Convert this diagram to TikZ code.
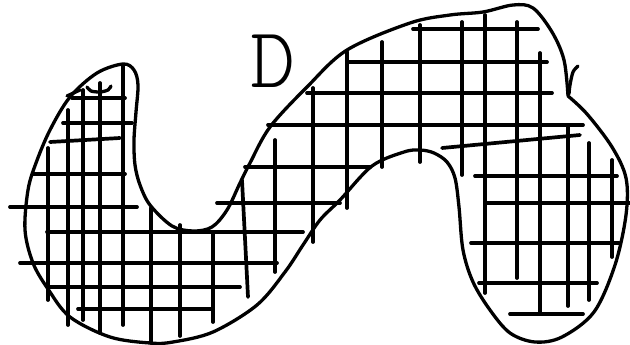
\documentclass[tikz,border=0pt]{standalone}
\usepackage{fontspec}
\newfontfamily\handfont{Latin Modern Mono Light}
\begin{document}
\begin{tikzpicture}[x=1pt,y=-1pt,
  outline/.style={line width=3.3pt,line join=round,line cap=round},
  gridline/.style={line width=3.7pt,line cap=round}]
\useasboundingbox (0,0) rectangle (630,345);
% region outline (sharp corner at the hook on the right)
\draw[outline] plot[smooth,tension=0.55] coordinates {
 (568,96) (587,114) (612,147) (626,178) (626,215) (615,265) (594,312)
 (562,337) (535,342) (510,333) (490,310) (473,282) (463,250) (459,207)
 (455,178) (447,162) (434,153) (420,150) (404,152) (372,166) (340,200)
 (320,220) (303,245) (285,272) (257,305) (213,332) (173,342) (150,343)
 (110,337) (70,317) (48,289) (33,263) (25,230) (28,190) (36,163) (50,130)
 (70,97) (97,73) (123,64) (134,70) (138,85) (136,112) (134,140) (135,165)
 (140,185) (150,205) (172,226) (193,231) (212,227) (227,210) (240,183)
 (250,163) (270,127) (307,87) (347,50) (410,23) (450,15) (483,12)
 (513,5) (533,8) (552,32) (564,60) (568,96)};
% hook on the right
\draw[outline] plot[smooth] coordinates {(569,94) (570,85) (573,72) (578,66)};
% marks at the top left
\draw[outline] (67,96) -- (80,90);
\draw[outline] plot[smooth] coordinates {(87,87) (91,91) (100,92) (108,90) (111,86)};
% label
\node[font=\handfont\fontsize{86}{86}\selectfont,inner sep=0pt,anchor=base] (lab) at (273,88) {D};
% horizontal grid strokes
\foreach \ya/\xa/\yb/\xb in {
 98/72/98/125, 123/63/123/132, 142/50/138/120, 174/33/174/125,
 207/10/207/137, 232/47/232/303, 263/20/263/277, 287/48/287/240,
 309/78/309/212, 29/413/29/538, 62/348/62/547, 93/307/93/552,
 125/268/125/583, 148/442/135/580, 167/245/167/370, 203/217/203/340,
 176/475/176/617, 203/485/203/630, 243/471/243/619, 283/479/283/597,
 314/510/314/583}
 \draw[gridline] (\xa,\ya) -- (\xb,\yb);
% vertical grid strokes
\foreach \xa/\ya/\xb/\yb in {
 48/148/48/300, 68/110/68/325, 83/90/83/320, 100/83/100/333,
 123/65/123/325, 151/208/151/343, 180/225/180/336, 213/233/213/322,
 242/180/248/297, 275/140/275/272, 313/88/313/242, 347/52/347/208,
 382/42/382/167, 420/25/420/162, 462/22/462/175, 485/15/485/293,
 517/22/517/278, 540/53/540/313, 568/125/568/306, 589/143/589/300,
 612/160/612/257}
 \draw[gridline] (\xa,\ya) -- (\xb,\yb);
\end{tikzpicture}
\end{document}
